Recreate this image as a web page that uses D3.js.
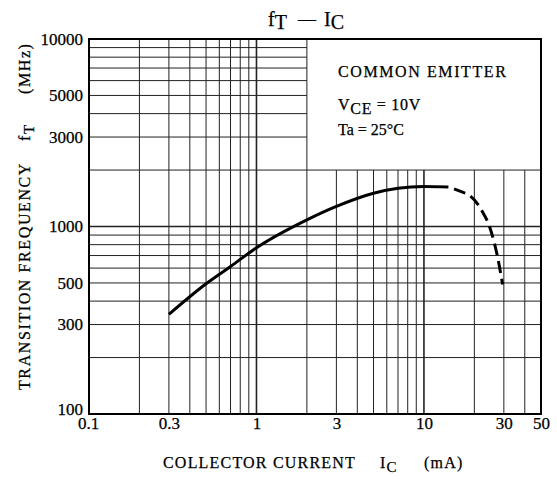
<!DOCTYPE html>
<html>
<head>
<meta charset="utf-8">
<script src="https://cdn.jsdelivr.net/npm/d3@7/dist/d3.min.js"></script>
<style>
  body { margin: 0; background: #fff; }
  svg { font-family: "Liberation Serif", "DejaVu Serif", serif; }
  svg text { white-space: pre; stroke: #000; stroke-width: 0.25; }
</style>
</head>
<body>
<div id="chart"></div>
<script>
// Data
const solidCurve = [
  [0.3, 340], [0.5, 495], [0.7, 612], [1, 770], [2, 1085], [3, 1280],
  [5, 1505], [7, 1600], [10, 1635], [14, 1625]
];
const dashCurve = [
  [14, 1625], [17, 1525], [18.5, 1475], [22, 1230], [25, 960], [27.5, 690], [29.5, 490]
];
const xTicks = [0.1, 0.3, 1, 3, 10, 30, 50];
const yTicks = [100, 300, 500, 1000, 3000, 5000, 10000];
const xGrid = [0.2, 0.3, 0.4, 0.5, 0.6, 0.7, 0.8, 0.9, 1, 2, 3, 4, 5, 6, 7, 8, 9, 10, 20, 30, 40];
const yGrid = [200, 300, 400, 500, 600, 700, 800, 900, 1000, 2000, 3000, 4000, 5000, 6000, 7000, 8000, 9000];

const W = 557, H = 479;
const m = { left: 89, right: 16, top: 39, bottom: 65 };

const svg = d3.select("#chart").append("svg")
  .attr("width", W).attr("height", H);

const x = d3.scaleLog([0.1, 50], [m.left, W - m.right]);
const y = d3.scaleLog([100, 10000], [H - m.bottom, m.top]);

// note box corner: x = 2 mA, y = 2000 MHz
const boxX = x(2), boxY = y(2000);

// grid
const grid = svg.append("g").attr("stroke", "#222");
grid.selectAll("line.v").data(xGrid).join("line")
  .attr("class", "v")
  .attr("x1", d => x(d)).attr("x2", d => x(d))
  .attr("y1", y(100))
  .attr("y2", d => d <= 2 ? y(10000) : boxY)
  .attr("stroke-width", d => (d === 1 || d === 10) ? 1.6 : 1);
grid.selectAll("line.h").data(yGrid).join("line")
  .attr("class", "h")
  .attr("y1", d => y(d)).attr("y2", d => y(d))
  .attr("x1", x(0.1))
  .attr("x2", d => d <= 2000 ? x(50) : boxX)
  .attr("stroke-width", d => d === 1000 ? 1.6 : 1);

// frame
svg.append("rect")
  .attr("x", x(0.1)).attr("y", y(10000))
  .attr("width", x(50) - x(0.1)).attr("height", y(100) - y(10000))
  .attr("fill", "none").attr("stroke", "#000").attr("stroke-width", 2);

// axes (labels only, ticks drawn by grid)
const xAxis = svg.append("g")
  .attr("transform", `translate(0,${y(100)})`)
  .call(d3.axisBottom(x).tickValues(xTicks).tickFormat(d => d).tickSize(0).tickPadding(3));
xAxis.select(".domain").remove();
xAxis.selectAll("text").attr("font-size", 17).attr("font-family", "Liberation Serif").attr("fill", "#000");
xAxis.selectAll(".tick").filter(d => d === 0.1).select("text").attr("dx", -1);

const yAxis = svg.append("g")
  .attr("transform", `translate(${x(0.1)},0)`)
  .call(d3.axisLeft(y).tickValues(yTicks).tickFormat(d => d).tickSize(0).tickPadding(6));
yAxis.select(".domain").remove();
yAxis.selectAll("text").attr("font-size", 17).attr("font-family", "Liberation Serif").attr("fill", "#000")
  .attr("dy", "0.3em");
yAxis.selectAll(".tick").filter(d => d === 100).select("text").attr("dy", "0em");

// curve
const line = d3.line().x(d => x(d[0])).y(d => y(d[1])).curve(d3.curveMonotoneX);
svg.append("path").datum(solidCurve)
  .attr("d", line).attr("fill", "none").attr("stroke", "#000").attr("stroke-width", 3);
svg.append("path").datum(dashCurve)
  .attr("d", line).attr("fill", "none").attr("stroke", "#000").attr("stroke-width", 3)
  .attr("stroke-dasharray", "12,6").attr("stroke-dashoffset", -6);

// note text
const note = svg.append("g").attr("font-size", 16);
note.append("text").attr("x", 338).attr("y", 77).attr("letter-spacing", 1.6).text("COMMON EMITTER");
const vce = note.append("text").attr("x", 338).attr("y", 110).attr("letter-spacing", 0.7);
vce.append("tspan").text("V");
vce.append("tspan").attr("dy", 4).text("CE");
vce.append("tspan").attr("dy", -4).text(" = 10V");
note.append("text").attr("x", 338).attr("y", 135).text("Ta = 25°C");

// title
const title = svg.append("g").attr("font-size", 20);
const tf = title.append("text").attr("x", 268).attr("y", 26);
tf.append("tspan").text("f");
tf.append("tspan").attr("dy", 3).text("T");
title.append("text").attr("x", 298).attr("y", 25).attr("font-size", 18).text("—");
const ti = title.append("text").attr("x", 324).attr("y", 26);
ti.append("tspan").text("I");
ti.append("tspan").attr("dy", 3).text("C");

// x axis label
const xl = svg.append("g").attr("font-size", 16).attr("letter-spacing", 1.2);
xl.append("text").attr("x", 163).attr("y", 468).text("COLLECTOR CURRENT");
const xi = xl.append("text").attr("x", 380).attr("y", 468);
xi.append("tspan").text("I");
xi.append("tspan").attr("dy", 4).attr("font-size", 15).text("C");
xl.append("text").attr("x", 424).attr("y", 468).text("(mA)");

// y axis label
const yl = svg.append("g").attr("font-size", 16).attr("letter-spacing", 1.6);
yl.append("text").attr("transform", "translate(30,390) rotate(-90)").text("TRANSITION FREQUENCY");
const yf = yl.append("text").attr("transform", "translate(30,141) rotate(-90)");
yf.append("tspan").text("f");
yf.append("tspan").attr("dy", 4).attr("font-size", 15).text("T");
yl.append("text").attr("transform", "translate(30,94) rotate(-90)").text("(MHz)");
</script>
</body>
</html>
